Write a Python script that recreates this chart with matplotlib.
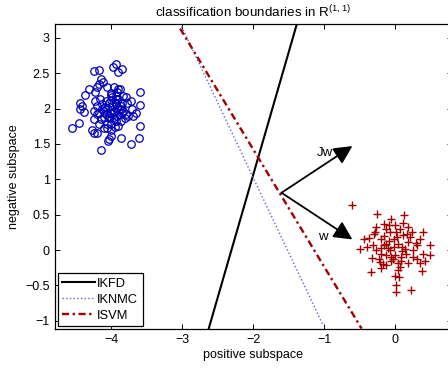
import numpy as np
import matplotlib
matplotlib.use("Agg")
import matplotlib.pyplot as plt

plt.rcParams['font.family'] = ['Liberation Sans', 'DejaVu Sans']

# samples of the positive class (circles)
pos_x = [-3.94, -3.98, -3.85, -3.90, -4.25, -4.18, -4.15, -4.12, -4.18, -4.20,
         -4.32, -4.37, -4.23, -4.06, -3.97, -3.88, -3.92, -3.94, -4.01, -3.60,
         -3.72, -3.59, -4.44, -4.41, -4.39, -4.45, -3.71, -3.66, -3.69, -3.76,
         -4.21, -4.25, -4.20, -4.15, -4.25, -4.08, -4.01, -3.97, -3.87, -3.85,
         -3.90, -3.94, -3.99, -4.06, -4.13, -4.11, -4.04, -3.97, -3.92, -3.87,
         -3.90, -4.06, -4.11, -4.18, -4.27, -4.25, -4.20, -4.01, -4.00, -4.04,
         -4.05, -3.87, -3.73, -3.61, -3.59, -4.15, -4.46, -4.55, -4.01, -3.94,
         -3.83, -4.16, -3.83, -3.80, -3.92, -3.85, -4.01, -3.94, -3.78, -3.80,
         -4.04, -4.13, -3.96, -4.09, -3.89, -4.03, -4.08, -3.99, -3.93, -4.02,
         -3.96, -4.10, -3.86, -4.17, -4.06, -3.95, -4.23, -3.81, -4.00, -3.91]
pos_y = [2.63, 2.58, 2.56, 2.51, 2.53, 2.54, 2.42, 2.37, 2.34, 2.30,
         2.27, 2.19, 2.23, 2.30, 2.30, 2.27, 2.23, 2.18, 2.19, 2.23,
         2.11, 2.05, 2.08, 2.04, 1.95, 1.99, 1.99, 1.94, 1.89, 1.90,
         2.04, 1.97, 1.92, 1.85, 1.85, 1.92, 1.94, 1.97, 2.04, 2.08,
         2.13, 2.08, 2.04, 2.01, 2.06, 1.97, 1.87, 1.85, 1.90, 1.83,
         1.76, 1.78, 1.73, 1.78, 1.70, 1.65, 1.66, 1.69, 1.61, 1.57,
         1.54, 1.58, 1.50, 1.59, 1.76, 1.42, 1.79, 1.72, 2.12, 2.14,
         2.18, 2.13, 1.97, 1.92, 2.01, 1.94, 1.78, 1.83, 2.08, 2.16,
         2.08, 1.99, 1.95, 2.02, 2.00, 1.90, 2.10, 2.16, 2.06, 1.93,
         1.88, 1.88, 2.00, 1.94, 1.72, 1.74, 2.10, 1.86, 2.22, 2.28]

# samples of the negative class (pluses)
neg_x = [-0.61, -0.25, 0.13, -0.05, -0.09, 0.00, 0.19, -0.27, 0.40, -0.28,
         -0.07, 0.02, 0.12, -0.44, -0.36, -0.19, 0.21, 0.35, 0.49, 0.31,
         -0.31, -0.12, 0.05, -0.49, -0.26, -0.07, 0.14, 0.26, 0.40, 0.49,
         -0.19, -0.12, 0.00, 0.09, -0.33, 0.31, -0.21, -0.12, 0.05, 0.19,
         0.35, -0.19, -0.34, 0.07, 0.38, 0.00, 0.06, 0.01, 0.02, 0.22,
         -0.16, -0.02, 0.19, -0.05, 0.24, 0.07, -0.16, -0.10, 0.10, -0.03,
         -0.15, -0.08, 0.03, 0.10, -0.20, 0.15, -0.05, 0.08, -0.12, 0.17,
         -0.23, 0.25, -0.02, 0.05, -0.17, 0.30, -0.30, 0.12, -0.40, 0.42]
neg_y = [0.64, 0.51, 0.50, 0.44, 0.36, 0.35, 0.32, 0.32, 0.26, 0.25,
         0.26, 0.25, 0.21, 0.16, 0.17, 0.16, 0.18, 0.16, 0.07, 0.07,
         0.07, 0.09, 0.09, 0.01, 0.00, 0.00, 0.02, 0.00, -0.05, -0.07,
         -0.05, -0.07, -0.07, -0.10, -0.11, -0.12, -0.17, -0.21, -0.19, -0.19,
         -0.19, -0.26, -0.31, -0.24, -0.30, -0.36, -0.38, -0.50, -0.59, -0.56,
         0.07, 0.16, 0.11, -0.15, 0.25, 0.30, 0.37, 0.03, -0.02, -0.12,
         0.20, 0.13, 0.18, 0.05, 0.03, -0.05, -0.10, -0.15, 0.30, 0.22,
         -0.12, -0.10, 0.05, -0.28, -0.20, 0.10, 0.22, 0.38, 0.05, -0.15]

# boundary end points (x0, x1), (y0, y1)
ikfd_x, ikfd_y = [-2.63, -1.385], [-1.12, 3.19]
iknmc_x, iknmc_y = [-3.01, -1.01], [3.16, -1.07]
isvm_x, isvm_y = [-3.03, -0.47], [3.13, -1.11]

# direction vectors w and Jw
origin = (-1.6, 0.81)
w = (1.0, -0.66)
Jw = (1.0, 0.66)

fig = plt.figure(figsize=(4.48, 3.71), dpi=100)
ax = fig.add_axes([0.1221, 0.1124, 0.886, 0.822])

ax.plot(pos_x, pos_y, 'o', ms=5.4, mfc='none', mec='#0000b8', mew=0.9)
ax.plot(neg_x, neg_y, '+', ms=6, color='#a00000', mew=1.0)

ax.plot(ikfd_x, ikfd_y, '-', color='k', lw=1.5, label='IKFD')
ax.plot(iknmc_x, iknmc_y, ':', color='#6060e0', lw=1.0, label='IKNMC')
ax.plot(isvm_x, isvm_y, color='#a00000', lw=1.7, dashes=(3, 1.5, 1, 1.5),
        label='ISVM')

for vec in (w, Jw):
    ax.annotate('', xy=(origin[0] + vec[0], origin[1] + vec[1]), xytext=origin,
                arrowprops=dict(arrowstyle='-|>,head_length=0.7,head_width=0.35',
                                mutation_scale=16, lw=1.3, color='k',
                                shrinkA=0, shrinkB=0))
ax.text(-0.986, 1.376, 'Jw', ha='center', va='center', fontsize=9.5)
ax.text(-1.024, 0.19, 'w', ha='center', va='center', fontsize=9.5)

ax.set_xlim(-4.8, 0.8)
ax.set_ylim(-1.12, 3.19)
ax.set_xticks([-4, -3, -2, -1, 0])
ax.set_yticks([-1, -0.5, 0, 0.5, 1, 1.5, 2, 2.5, 3])
ax.set_yticklabels(['\u22121', '\u22120.5', '0', '0.5', '1', '1.5', '2', '2.5', '3'])
ax.tick_params(direction='in', top=True, right=True, length=3.5, width=0.7,
               labelsize=9)
for s in ax.spines.values():
    s.set_linewidth(0.9)

ax.set_title('classification boundaries in R$^{\\mathregular{(1,1)}}$',
             fontsize=9.6, pad=5)
ax.set_xlabel('positive subspace', fontsize=9, labelpad=2)
ax.set_ylabel('negative subspace', fontsize=9, labelpad=4)

leg = ax.legend(loc='lower left', fontsize=9.3, fancybox=False, framealpha=1,
                edgecolor='k', handlelength=2.5, handletextpad=0.2,
                labelspacing=0.3, borderpad=0.35, borderaxespad=0.25)
leg.get_frame().set_linewidth(0.9)

fig.savefig('out.png', dpi=100)
